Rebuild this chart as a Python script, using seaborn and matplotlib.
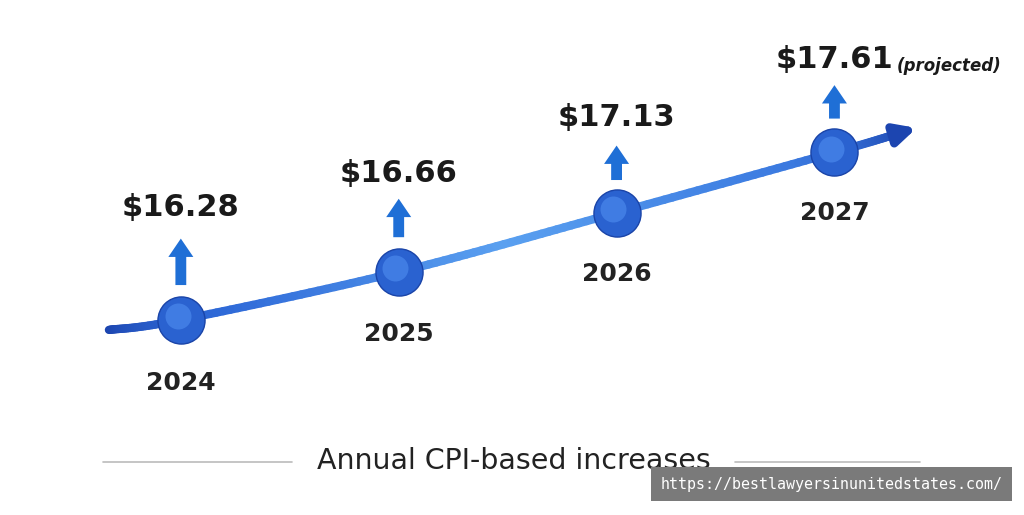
import matplotlib.pyplot as plt
import numpy as np
import seaborn as sns
from matplotlib.collections import LineCollection
from matplotlib.colors import LinearSegmentedColormap
from matplotlib.transforms import offset_copy

years = [2024, 2025, 2026, 2027]
wages = [16.28, 16.66, 17.13, 17.61]
value_labels = ['$16.28', '$16.66', '$17.13', '$17.61']
title_text = 'Annual CPI-based increases'
watermark = 'https://bestlawyersinunitedstates.com/'

sns.set_theme(style='white')
plt.rcParams['font.family'] = ['DejaVu Sans']

fig = plt.figure(figsize=(10.24, 5.15), dpi=100)
ax = fig.add_axes([0, 0, 1, 1])
ax.set_xlim(2023.17, 2027.87)
ax.set_ylim(14.73, 18.82)
ax.axis('off')

# smooth decorative trend line through the points, extended at both ends
px = np.array([2023.67] + years + [2027.33])
py = np.array([16.20] + wages + [17.78])
xs, ys = [], []
for i in range(len(px) - 1):
    p0 = max(i - 1, 0); p3 = min(i + 2, len(px) - 1)
    t = np.linspace(0, 1, 30)
    for arr, out in ((px, xs), (py, ys)):
        a, b, c, d = arr[p0], arr[i], arr[i + 1], arr[p3]
        out.extend(0.5 * (2 * b + (-a + c) * t + (2 * a - 5 * b + 4 * c - d) * t ** 2
                          + (-a + 3 * b - 3 * c + d) * t ** 3))
xs, ys = np.array(xs), np.array(ys)
seg = np.stack([np.column_stack([xs[:-1], ys[:-1]]), np.column_stack([xs[1:], ys[1:]])], axis=1)
cmap = LinearSegmentedColormap.from_list('b', ['#1c45b0', '#2f6ad8', '#5aa0f0', '#3b7ae0', '#1c45b0'])
lc = LineCollection(seg, cmap=cmap, linewidth=6, capstyle='round')
lc.set_array(np.linspace(0, 1, len(seg)))
ax.add_collection(lc)
ax.annotate('', xy=(xs[-1] + 0.06, ys[-1] + 0.03), xytext=(xs[-8], ys[-8]),
            arrowprops=dict(arrowstyle='-|>', color='#1c45b0', lw=6, mutation_scale=30))

sns.scatterplot(x=years, y=wages, s=1150, color='#2a62d0', edgecolor='#1a44a8',
                linewidth=1, zorder=5, ax=ax, legend=False)
ax.scatter(np.array(years) - 0.015, np.array(wages) + 0.03, s=350, color='#4f8ef0',
           alpha=0.6, zorder=6, linewidths=0)

label_off = [112, 98, 95, 93]
arrow_off = [(32, 84), (32, 76), (30, 70), (31, 70)]
year_off = [-63, -62, -61, -61]
for i, (yr, w) in enumerate(zip(years, wages)):
    lo, hi = arrow_off[i]
    tr_hi = offset_copy(ax.transData, fig=fig, x=0, y=hi, units='dots')
    tr_lo = offset_copy(ax.transData, fig=fig, x=0, y=lo, units='dots')
    ax.annotate('', xy=(yr, w), xycoords=tr_hi, xytext=(yr, w), textcoords=tr_lo,
                arrowprops=dict(arrowstyle='simple,head_width=1.5,head_length=1.1,tail_width=0.65',
                                color='#1f6fd6', lw=0))
    ax.annotate(value_labels[i], xy=(yr, w), xytext=(0, label_off[i]), textcoords='offset pixels',
                ha='center', va='center', fontsize=22, fontweight='bold', color='#1a1a1a')
    ax.annotate(str(yr), xy=(yr, w), xytext=(0, year_off[i]), textcoords='offset pixels',
                ha='center', va='center', fontsize=18, fontweight='semibold', color='#222222')
ax.annotate('(projected)', xy=(years[-1], wages[-1]), xytext=(62, 86), textcoords='offset pixels',
            ha='left', va='center', fontsize=12, fontweight='bold', style='italic', color='#1a1a1a')

fig.text(0.502, 0.105, title_text, ha='center', va='center', fontsize=20.5,
         fontweight='medium', color='#222222')
fig.add_artist(plt.Line2D([0.101, 0.285], [0.103, 0.103], color='#bbbbbb', lw=1.2))
fig.add_artist(plt.Line2D([0.718, 0.898], [0.103, 0.103], color='#bbbbbb', lw=1.2))
fig.text(0.979, 0.06, watermark, ha='right', va='center', fontsize=10.8, family='DejaVu Sans Mono',
         color='white', bbox=dict(boxstyle='square,pad=0.65', facecolor='#7a7a7a', edgecolor='none'))

fig.savefig('out.png', dpi=100)
